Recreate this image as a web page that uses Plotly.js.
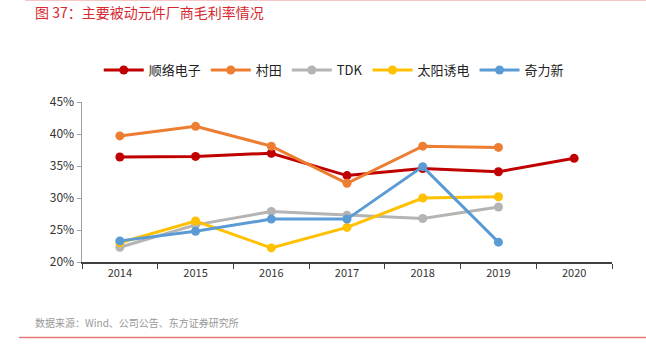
<!DOCTYPE html>
<html><head><meta charset="utf-8">
<script src="https://cdn.plot.ly/plotly-3.0.1.min.js"></script>
<style>html,body{margin:0;padding:0;background:#fff}#chart{width:646px;height:355px}</style>
</head><body><div id="chart"></div>
<script>
const years = ['2014','2015','2016','2017','2018','2019','2020'];
const sunlord = [36.4, 36.5, 37.0, 33.5, 34.6, 34.1, 36.2];
const murata = [39.7, 41.2, 38.1, 32.3, 38.1, 37.9, null];
const tdk = [22.3, 25.8, 27.9, 27.3, 26.8, 28.6, null];
const taiyo = [23.0, 26.4, 22.2, 25.4, 30.0, 30.2, null];
const chilisin = [23.3, 24.8, 26.7, 26.7, 34.9, 23.1, null];
const seriesNames = ['顺络电子','村田','TDK','太阳诱电','奇力新'];
const seriesColors = ['#C00000','#ED7D31','#B4B4B4','#FFC000','#5B9BD5'];
const yTicks = [20,25,30,35,40,45];
const yTickLabels = ['20%','25%','30%','35%','40%','45%'];
const titleText = '图 37：主要被动元件厂商毛利率情况';
const sourceText = '数据来源：Wind、公司公告、东方证券研究所';

const font = 'Noto Sans CJK SC, Noto Sans, sans-serif';
const data = [sunlord, murata, tdk, taiyo, chilisin].map((vals, i) => ({
  type: 'scatter', mode: 'lines+markers', x: years, y: vals, name: seriesNames[i],
  line: {color: seriesColors[i], width: 3}, marker: {color: seriesColors[i], size: 9},
  connectgaps: false
}));
const layout = {
  width: 646, height: 355,
  margin: {l: 82, r: 34, t: 102, b: 93},
  paper_bgcolor: '#fff', plot_bgcolor: '#fff',
  font: {family: font, color: '#333', size: 12},
  showlegend: true,
  legend: {orientation: 'h', x: 0.475, xanchor: 'center', y: 1.2, yanchor: 'middle',
    font: {size: 13, color: '#222'}, itemwidth: 40, tracegroupgap: 0},
  xaxis: {type: 'category', range: [-0.5, 6.5], showgrid: false, zeroline: false,
    showline: true, linecolor: '#404040', linewidth: 1.5, ticks: 'outside', tickson: 'boundaries',
    ticklen: 5, tickcolor: '#404040', tickfont: {size: 11, color: '#333'}},
  yaxis: {range: [20, 45], tickvals: yTicks, ticktext: yTickLabels, showgrid: false, zeroline: false,
    showline: true, linecolor: '#A0A0A0', linewidth: 1.5, ticks: 'outside', ticklen: 4, tickcolor: '#A0A0A0',
    tickfont: {size: 12, color: '#333'}},
  annotations: [
    {text: titleText, xref: 'paper', yref: 'paper', x: -0.0925, y: 1.5625, xanchor: 'left', yanchor: 'middle',
      showarrow: false, font: {size: 14, color: '#D7282F', family: font}},
    {text: sourceText, xref: 'paper', yref: 'paper', x: -0.0925, y: -0.381, xanchor: 'left', yanchor: 'middle',
      showarrow: false, font: {size: 10, color: '#999', family: font}}
  ],
  shapes: [
    {type: 'line', xref: 'paper', yref: 'paper', x0: (25-82)/530, x1: (646-82)/530, y0: (262-0.5)/160, y1: (262-0.5)/160,
      line: {color: '#F4C6C6', width: 1}},
    {type: 'line', xref: 'paper', yref: 'paper', x0: (19-82)/530, x1: (646-82)/530, y0: (262-337.5)/160, y1: (262-337.5)/160,
      line: {color: '#E47A7A', width: 1.5}}
  ]
};
Plotly.newPlot('chart', data, layout, {staticPlot: true, displayModeBar: false});
</script></body></html>
